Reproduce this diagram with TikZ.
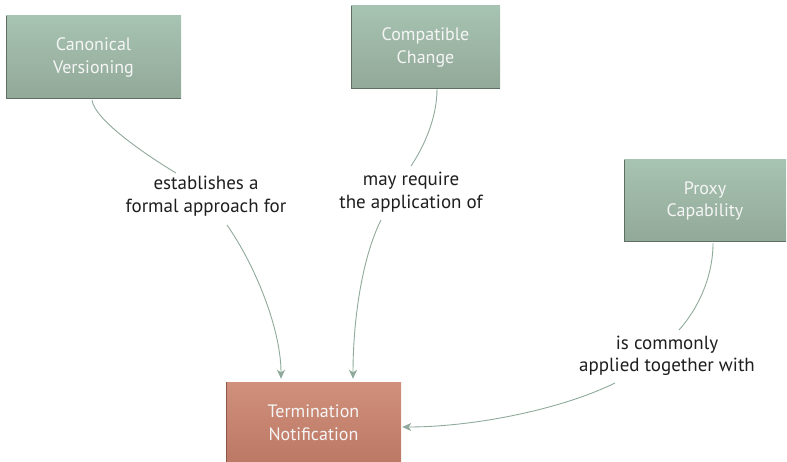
\documentclass[tikz,border=0pt]{standalone}
\usepackage{fontspec}
\setmainfont{PT Sans}
\usetikzlibrary{arrows.meta,calc}
\definecolor{boxtop}{HTML}{A7C3B2}
\definecolor{boxbot}{HTML}{92A898}
\definecolor{boxedge}{HTML}{5E6E63}
\definecolor{termtop}{HTML}{D0907C}
\definecolor{termbot}{HTML}{BC7965}
\definecolor{termedge}{HTML}{8E5646}
\definecolor{linkcol}{HTML}{8FA99A}
\definecolor{labelcol}{HTML}{1E1E1E}
\tikzset{
  concept/.style={rectangle, top color=boxtop, bottom color=boxbot, draw=none,
    text=white!96!black, align=center, inner sep=0pt,
    font=\fontsize{18}{22.5}\selectfont},
  target/.style={concept, top color=termtop, bottom color=termbot},
  linklabel/.style={align=center, text=labelcol, inner sep=1pt,
    font=\fontsize{19}{22.5}\selectfont},
  link/.style={draw=linkcol, line width=0.9pt},
  arrowlink/.style={link, -{Stealth[length=9pt,width=8pt,inset=2.5pt]}},
}
\begin{document}
\begin{tikzpicture}[x=1pt,y=-1pt]
\useasboundingbox (0,0) rectangle (787,462);
% concept boxes
\node[concept, minimum width=175pt, minimum height=83pt] (cv) at (93.5,57.5) {Canonical\\Versioning};
\node[concept, minimum width=149pt, minimum height=83pt] (cc) at (425.5,47.5) {Compatible\\Change};
\node[concept, minimum width=162pt, minimum height=82pt] (pc) at (705,201) {Proxy\\Capability};
\node[target, minimum width=175pt, minimum height=81pt] (tn) at (313.5,422.5) {Termination\\Notification};
% darker shadow along the left and bottom edges
\foreach \n/\c in {cv/boxedge, cc/boxedge, pc/boxedge, tn/termedge}{
  \draw[\c, line width=1.4pt] ($(\n.north west)+(0.7,0)$) -- ($(\n.south west)+(0.7,-0.7)$) -- ($(\n.south east)+(0,-0.7)$);
}
% link labels
\node[linklabel] (l1) at (206,196) {establishes a\\formal approach for};
\node[linklabel] (l2) at (411,192) {may require\\the application of};
\node[linklabel] (l3) at (667,356) {is commonly\\applied together with};
% connectors
\draw[link] ($(cv.south)+(-1.5,1)$) .. controls +(3,20) and +(-30,-18) .. (176,173);
\draw[arrowlink] (227,225) .. controls +(28,40) and +(0,-50) .. ($(tn.north)+(-32.5,-3)$);
\draw[link] ($(cc.south)+(11.5,0)$) .. controls +(0,30) and +(12,-18) .. (411,166);
\draw[arrowlink] (381,220) .. controls +(-20,40) and +(0,-55) .. ($(tn.north)+(39.5,-3)$);
\draw[link] ($(pc.south)+(8,1)$) .. controls +(0,35) and +(18,-20) .. (679,330);
\draw[arrowlink] (615,383) .. controls +(-55,27) and +(70,0) .. ($(tn.east)+(1,4.5)$);
\end{tikzpicture}
\end{document}
